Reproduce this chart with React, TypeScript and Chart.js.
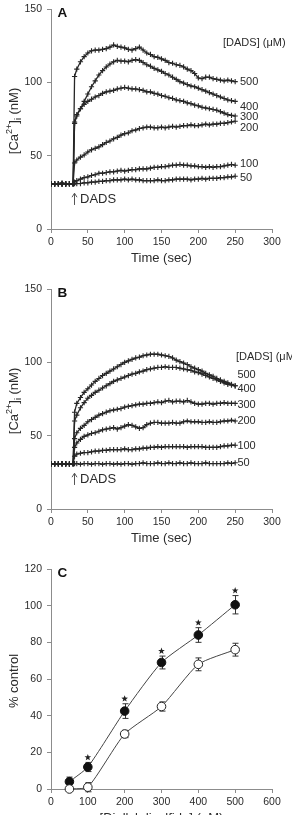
import React, { useEffect, useRef } from "react";
import { Chart, registerables } from "chart.js";

Chart.register(...registerables);

const FONT = '"Liberation Sans", Arial, Helvetica, sans-serif';
const AXIS_COLOR = "#8c8c8c";
const TEXT_COLOR = "#2b2b2b";
const TRACE_COLOR = "#262626";

// Sampling times (s). DADS is added at ~30 s; 32 s is the first reading after it.
const TIME = [
  0, 5, 10, 15, 20, 25, 30, 32,
  35, 40, 45, 50, 55, 60, 65, 70, 75, 80,
  85, 90, 95, 100, 105, 110, 115, 120, 125, 130,
  135, 140, 145, 150, 155, 160, 165, 170, 175, 180,
  185, 190, 195, 200, 205, 210, 215, 220, 225, 230,
  235, 240, 245, 250,
];

const DOSE_LABELS = ["50", "100", "200", "300", "400", "500"];

// Panel A traces, [Ca2+]i in nM
const A_50 = [
  30.5, 31, 31, 30.5, 30.5, 31, 31, 31,
  31, 31, 31.5, 31.5, 32, 32, 32.5, 32.5, 33, 33,
  33.5, 33.5, 33.5, 34, 33.5, 34, 33.5, 33.5, 33, 33,
  33, 33, 33.5, 33, 33, 33.5, 33.5, 34, 34, 34,
  34, 33.5, 34, 34, 34.5, 34, 34.5, 34.5, 34.5, 35,
  35, 35.5, 35.5, 36,
];
const A_100 = [
  31, 30.5, 31, 30.5, 31, 31, 30.5, 32,
  33, 34, 35, 35.5, 36.5, 37, 38, 38, 38.5, 39,
  39, 39.5, 40, 39.5, 40, 40.5, 40.5, 41, 41, 41,
  41.5, 42, 42, 42.5, 42.5, 43, 43.5, 43.5, 44, 43.5,
  43.5, 43, 43, 42.5, 42.5, 42, 42.5, 42, 42.5, 42.5,
  43, 43.5, 44, 43.5,
];
const A_200 = [
  30.5, 30.5, 31, 31, 30.5, 31, 31, 45,
  47, 49, 50.5, 52.5, 54, 55, 56, 57.5, 59, 60,
  61.5, 62.5, 64, 65, 65.5, 67, 67.5, 68.5, 69, 69.5,
  69.5, 69, 69, 69.5, 69, 69.5, 70, 69.5, 70, 70.5,
  70.5, 71, 70.5, 70.5, 71, 71.5, 71, 71.5, 71.5, 72,
  72, 72.5, 73, 73.5,
];
const A_300 = [
  31, 31, 30.5, 30.5, 31, 31, 30.5, 73,
  78, 82, 85, 87, 88.5, 90, 91, 92.5, 93.5, 94,
  94.5, 95.5, 96, 96.5, 96, 95.5, 95.5, 95, 94.5, 93.5,
  93.5, 92.5, 92, 91, 90.5, 89.5, 89, 88, 87.5, 87,
  86, 85.5, 84.5, 84, 83, 82.5, 82, 81.5, 81, 80,
  79, 78, 77.5, 77,
];
const A_400 = [
  30.5, 31, 30.5, 31, 31, 30.5, 31, 72,
  77, 82, 87, 92, 97, 101, 105, 108, 110.5, 112.5,
  114, 115, 114.5, 114.5, 114, 115, 115.5, 115, 113.5, 112,
  111, 109.5, 108.5, 107.5, 106, 105, 103.5, 102, 100.5, 99.5,
  98.5, 97.5, 97, 96, 95, 94, 93, 92, 91, 90,
  89, 88, 87.5, 87,
];
const A_500 = [
  31, 30.5, 31, 31.5, 30.5, 31, 31, 104,
  109, 114, 117.5, 120, 121.5, 122, 122, 122.5, 123, 124,
  125.5, 124.5, 124, 123.5, 122.5, 122, 123, 124, 122, 120,
  119, 117.5, 117, 116, 115, 113.5, 113, 112, 111.5, 110.5,
  109, 108, 106, 103, 102.5, 103.5, 103.5, 102.5, 102, 101.5,
  101, 101.5, 101, 100.5,
];

// Panel B traces, [Ca2+]i in nM
const B_50 = [
  30.5, 31, 30.5, 31, 31, 30.5, 31, 31,
  31, 30.5, 31, 31, 30.5, 31, 31, 30.5, 31, 31,
  30.5, 31, 30.5, 31, 31, 30.5, 31, 31, 31.5, 31,
  31, 31, 31.5, 31, 31, 31.5, 31, 31, 31.5, 31,
  31, 31.5, 31, 31, 31, 31.5, 31, 31, 31, 31,
  31, 31.5, 31, 31.5,
];
const B_100 = [
  31, 30.5, 31, 31, 31, 30.5, 31, 36,
  37.5, 38, 38.5, 38.5, 39, 39.5, 39.5, 40, 40, 40.5,
  40.5, 40.5, 40.5, 41, 40.5, 40.5, 41, 41, 41.5, 41.5,
  42, 42, 42.5, 42, 42.5, 42.5, 42.5, 42.5, 42.5, 42.5,
  42, 42.5, 42.5, 42.5, 42.5, 42, 42, 42, 42, 42.5,
  43, 43, 43.5, 43.5,
];
const B_200 = [
  30.5, 31, 31, 31, 30.5, 31, 30.5, 42,
  45, 47.5, 49.5, 50.5, 51.5, 52, 53, 54, 54.5, 55,
  55.5, 54.5, 55.5, 56.5, 57.5, 57, 56, 55, 55.5, 57.5,
  58.5, 59, 59, 58.5, 58.5, 58.5, 59, 58.5, 58.5, 59.5,
  60, 59.5, 59.5, 59.5, 59, 59, 59.5, 59, 59, 59.5,
  60, 60, 60.5, 60,
];
const B_300 = [
  31, 31, 30.5, 31, 31, 30.5, 31, 48,
  52, 55, 57, 59.5, 61, 62.5, 64, 65, 66, 67,
  67.5, 68, 68.5, 69.5, 70, 70.5, 71, 71.5, 71.5, 72,
  72, 72.5, 73, 72.5, 73.5, 74, 73, 73.5, 73.5, 73,
  74, 73, 72, 71.5, 71.5, 72, 72, 71.5, 72, 72,
  72.5, 72, 72, 72,
];
const B_400 = [
  30.5, 31, 31, 30.5, 31, 30.5, 31, 60,
  64, 69, 72.5, 75.5, 77.5, 79.5, 81, 82.5, 84, 85.5,
  87, 88, 89, 90, 91, 92, 92.5, 93.5, 94, 95,
  95.5, 96, 96.5, 96.5, 97, 96.5, 96.5, 96.5, 96, 95.5,
  95, 94.5, 93.5, 93, 92, 91, 90, 89, 88, 87,
  86, 85, 84.5, 84,
];
const B_500 = [
  31, 30.5, 31, 31, 30.5, 31, 31, 66,
  72, 76, 79.5, 82, 84.5, 87, 89, 91, 92.5, 94,
  95.5, 97, 98.5, 100, 101, 102, 103, 103.5, 104.5, 105,
  105.5, 105.5, 105.5, 105, 104.5, 104, 103, 101.5, 100.5, 99.5,
  98.5, 97, 96, 95, 94, 92.5, 91.5, 90.5, 89, 88,
  87, 86, 85, 84,
];

// Panel C: response as % of control, mean and SEM
const DOSES = [50, 100, 200, 300, 400, 500];
const CLOSED_MEAN = [4, 12, 42.5, 69, 84, 100.5];
const CLOSED_SEM = [2.5, 2.5, 4, 3.5, 4, 5];
const OPEN_MEAN = [0, 1, 30, 45, 68, 76];
const OPEN_SEM = [0, 2.5, 2, 2.5, 3.5, 3.5];
const SIGNIFICANT = [false, true, true, true, true, true];

type Part = { t: string; k?: "sup" | "sub" };
const CA_TITLE: Part[] = [
  { t: "[Ca" },
  { t: "2+", k: "sup" },
  { t: "]" },
  { t: "i", k: "sub" },
  { t: " (nM)" },
];
const PCT_TITLE: Part[] = [{ t: "% control" }];

// Rotated axis title with optional super/subscript runs, centred on (cx, cy)
function drawYTitle(ctx: CanvasRenderingContext2D, parts: Part[], cx: number, cy: number, size: number) {
  const big = `${size}px ${FONT}`;
  const small = `${Math.round(size * 0.72)}px ${FONT}`;
  ctx.save();
  ctx.translate(cx, cy);
  ctx.rotate(-Math.PI / 2);
  let w = 0;
  for (const p of parts) {
    ctx.font = p.k ? small : big;
    w += ctx.measureText(p.t).width;
  }
  let x = -w / 2;
  const base = size * 0.36;
  ctx.fillStyle = TEXT_COLOR;
  ctx.textBaseline = "alphabetic";
  ctx.textAlign = "left";
  for (const p of parts) {
    ctx.font = p.k ? small : big;
    const dy = p.k === "sup" ? -size * 0.4 : p.k === "sub" ? size * 0.24 : 0;
    ctx.fillText(p.t, x, base + dy);
    x += ctx.measureText(p.t).width;
  }
  ctx.restore();
}

function drawLetter(ctx: CanvasRenderingContext2D, letter: string, x: number, y: number) {
  ctx.save();
  ctx.font = `bold 13.5px ${FONT}`;
  ctx.fillStyle = "#111";
  ctx.textBaseline = "middle";
  ctx.textAlign = "left";
  ctx.fillText(letter, x, y);
  ctx.restore();
}

function axis(min: number, max: number, step: number, pad: number) {
  return {
    type: "linear" as const,
    min,
    max,
    ticks: {
      stepSize: step,
      padding: pad,
      maxRotation: 0,
      color: TEXT_COLOR,
      font: { family: FONT, size: 10.5 },
    },
    grid: {
      drawOnChartArea: false,
      drawTicks: true,
      tickLength: 4,
      color: AXIS_COLOR,
      lineWidth: 1,
    },
    border: { display: true, color: AXIS_COLOR, width: 1 },
  };
}

function xAxis(min: number, max: number, step: number, title: string) {
  return {
    ...axis(min, max, step, 3),
    title: {
      display: true,
      text: title,
      color: TEXT_COLOR,
      font: { family: FONT, size: 13 },
      padding: { top: 0, bottom: 8.5 },
    },
    afterFit(s: any) {
      s.height = 46;
      s.paddingLeft = 0;
      s.paddingRight = 0;
    },
  };
}

function yAxis(min: number, max: number, step: number) {
  return {
    ...axis(min, max, step, 5),
    afterFit(s: any) {
      s.width = 51;
      s.paddingTop = 0;
      s.paddingBottom = 0;
    },
  };
}

type TimePanel = {
  letter: string;
  series: number[][];
  labelLevels: number[]; // nM level of each dose label
  labelTime: number; // time at which dose labels start
  header: { t: number; v: number };
  padTop: number;
};

const PANEL_A: TimePanel = {
  letter: "A",
  series: [A_50, A_100, A_200, A_300, A_400, A_500],
  labelLevels: [34.8, 44.3, 68.9, 76.4, 83.2, 100.2],
  labelTime: 256.5,
  header: { t: 233.5, v: 126.8 },
  padTop: 9,
};

const PANEL_B: TimePanel = {
  letter: "B",
  series: [B_50, B_100, B_200, B_300, B_400, B_500],
  labelLevels: [31.4, 43, 60, 70.9, 81.8, 91.4],
  labelTime: 253,
  header: { t: 251, v: 103.6 },
  padTop: 14,
};

// DADS addition marker (time in s, arrow span in nM)
const ADD_TIME = 31;
const ADD_FROM = 16.4;
const ADD_TO = 24.4;
const ADD_TEXT_LEVEL = 20.3;

function timeChart(canvas: HTMLCanvasElement, p: TimePanel) {
  const datasets = p.series.map((vals) => ({
    data: TIME.map((t, i) => ({ x: t, y: vals[i] })),
    borderColor: TRACE_COLOR,
    borderWidth: 1.3,
    pointStyle: "cross" as const,
    pointRadius: 2.6,
    pointBorderWidth: 1.1,
    pointBorderColor: TRACE_COLOR,
    pointBackgroundColor: TRACE_COLOR,
    tension: 0,
    fill: false,
  }));

  const overlay = {
    id: "timeOverlay",
    afterDraw(chart: any) {
      const { ctx, chartArea } = chart;
      const xs = chart.scales.x;
      const ys = chart.scales.y;
      drawYTitle(ctx, CA_TITLE, 13, (chartArea.top + chartArea.bottom) / 2 + 2, 13);
      drawLetter(ctx, p.letter, 57.5, chartArea.top + 4.5);

      ctx.save();
      ctx.fillStyle = TEXT_COLOR;
      ctx.textBaseline = "middle";
      ctx.textAlign = "left";
      ctx.font = `11px ${FONT}`;
      ctx.fillText("[DADS] (\u03bcM)", xs.getPixelForValue(p.header.t), ys.getPixelForValue(p.header.v));
      const lx = xs.getPixelForValue(p.labelTime);
      DOSE_LABELS.forEach((lab, i) => {
        ctx.fillText(lab, lx, ys.getPixelForValue(p.labelLevels[i]));
      });

      // addition arrow
      const ax = Math.round(xs.getPixelForValue(ADD_TIME)) + 0.5;
      const y0 = ys.getPixelForValue(ADD_FROM);
      const y1 = ys.getPixelForValue(ADD_TO);
      ctx.strokeStyle = "#555";
      ctx.lineWidth = 1;
      ctx.beginPath();
      ctx.moveTo(ax, y0);
      ctx.lineTo(ax, y1);
      ctx.moveTo(ax - 2.5, y1 + 4);
      ctx.lineTo(ax, y1);
      ctx.lineTo(ax + 2.5, y1 + 4);
      ctx.stroke();
      ctx.font = `13px ${FONT}`;
      ctx.fillText("DADS", ax + 5.5, ys.getPixelForValue(ADD_TEXT_LEVEL));
      ctx.restore();
    },
  };

  return new Chart(canvas, {
    type: "line",
    data: { datasets },
    options: {
      animation: false,
      responsive: false,
      devicePixelRatio: 1,
      events: [],
      layout: { padding: { top: p.padTop, right: 20, left: 0, bottom: 0 } },
      plugins: { legend: { display: false }, tooltip: { enabled: false } },
      scales: {
        x: xAxis(0, 300, 50, "Time (sec)"),
        y: yAxis(0, 150, 50),
      },
    } as any,
    plugins: [overlay],
  });
}

function drawStar(ctx: CanvasRenderingContext2D, cx: number, cy: number, r: number) {
  ctx.beginPath();
  for (let k = 0; k < 10; k++) {
    const rad = k % 2 === 0 ? r : r * 0.42;
    const a = -Math.PI / 2 + (k * Math.PI) / 5;
    const px = cx + rad * Math.cos(a);
    const py = cy + rad * Math.sin(a);
    if (k === 0) ctx.moveTo(px, py);
    else ctx.lineTo(px, py);
  }
  ctx.closePath();
  ctx.fill();
}

function doseChart(canvas: HTMLCanvasElement) {
  const sems = [OPEN_SEM, CLOSED_SEM];
  const means = [OPEN_MEAN, CLOSED_MEAN];

  const overlay = {
    id: "doseOverlay",
    beforeDatasetsDraw(chart: any) {
      const { ctx } = chart;
      const xs = chart.scales.x;
      const ys = chart.scales.y;
      ctx.save();
      ctx.strokeStyle = "#333";
      ctx.lineWidth = 1;
      means.forEach((m, s) => {
        DOSES.forEach((d, i) => {
          if (sems[s][i] <= 0) return;
          const px = Math.round(xs.getPixelForValue(d)) + 0.5;
          const top = ys.getPixelForValue(m[i] + sems[s][i]);
          const bot = ys.getPixelForValue(m[i] - sems[s][i]);
          ctx.beginPath();
          ctx.moveTo(px, top);
          ctx.lineTo(px, bot);
          ctx.moveTo(px - 3, top);
          ctx.lineTo(px + 3, top);
          ctx.moveTo(px - 3, bot);
          ctx.lineTo(px + 3, bot);
          ctx.stroke();
        });
      });
      ctx.restore();
    },
    afterDraw(chart: any) {
      const { ctx, chartArea } = chart;
      const xs = chart.scales.x;
      const ys = chart.scales.y;
      ctx.save();
      ctx.fillStyle = "#222";
      DOSES.forEach((d, i) => {
        if (!SIGNIFICANT[i]) return;
        const px = xs.getPixelForValue(d);
        const py = ys.getPixelForValue(CLOSED_MEAN[i] + CLOSED_SEM[i]) - 5;
        drawStar(ctx, px, py, 3.5);
      });
      ctx.restore();
      drawYTitle(ctx, PCT_TITLE, 13, (chartArea.top + chartArea.bottom) / 2 + 2, 13);
      drawLetter(ctx, "C", 57.5, chartArea.top + 4.5);
    },
  };

  return new Chart(canvas, {
    type: "line",
    data: {
      datasets: [
        {
          data: DOSES.map((d, i) => ({ x: d, y: OPEN_MEAN[i] })),
          borderColor: "#444",
          borderWidth: 1,
          tension: 0.2,
          pointRadius: 4.3,
          pointBorderWidth: 1,
          pointBorderColor: "#222",
          pointBackgroundColor: "#ffffff",
          fill: false,
        },
        {
          data: DOSES.map((d, i) => ({ x: d, y: CLOSED_MEAN[i] })),
          borderColor: "#444",
          borderWidth: 1,
          tension: 0.2,
          pointRadius: 4.3,
          pointBorderWidth: 1,
          pointBorderColor: "#111",
          pointBackgroundColor: "#111",
          fill: false,
        },
      ],
    },
    options: {
      animation: false,
      responsive: false,
      devicePixelRatio: 1,
      events: [],
      clip: false,
      layout: { padding: { top: 14, right: 20, left: 0, bottom: 0 } },
      plugins: { legend: { display: false }, tooltip: { enabled: false } },
      scales: {
        x: xAxis(0, 600, 100, "[Diallyl disulfide] (\u03bcM)"),
        y: yAxis(0, 120, 20),
      },
    } as any,
    plugins: [overlay],
  });
}

export default function App() {
  const refA = useRef<HTMLCanvasElement>(null);
  const refB = useRef<HTMLCanvasElement>(null);
  const refC = useRef<HTMLCanvasElement>(null);

  useEffect(() => {
    const charts = [
      timeChart(refA.current!, PANEL_A),
      timeChart(refB.current!, PANEL_B),
      doseChart(refC.current!),
    ];
    return () => charts.forEach((c) => c.destroy());
  }, []);

  const canvasStyle = (top: number, h: number): React.CSSProperties => ({
    position: "absolute",
    left: 0,
    top,
    width: 292,
    height: h,
  });

  return (
    <div
      style={{
        position: "fixed",
        left: 0,
        top: 0,
        width: 292,
        height: 815,
        overflow: "hidden",
        background: "#ffffff",
      }}
    >
      <canvas ref={refA} width={292} height={275} style={canvasStyle(0, 275)} />
      <canvas ref={refB} width={292} height={280} style={canvasStyle(275, 280)} />
      <canvas ref={refC} width={292} height={280} style={canvasStyle(555, 280)} />
    </div>
  );
}
